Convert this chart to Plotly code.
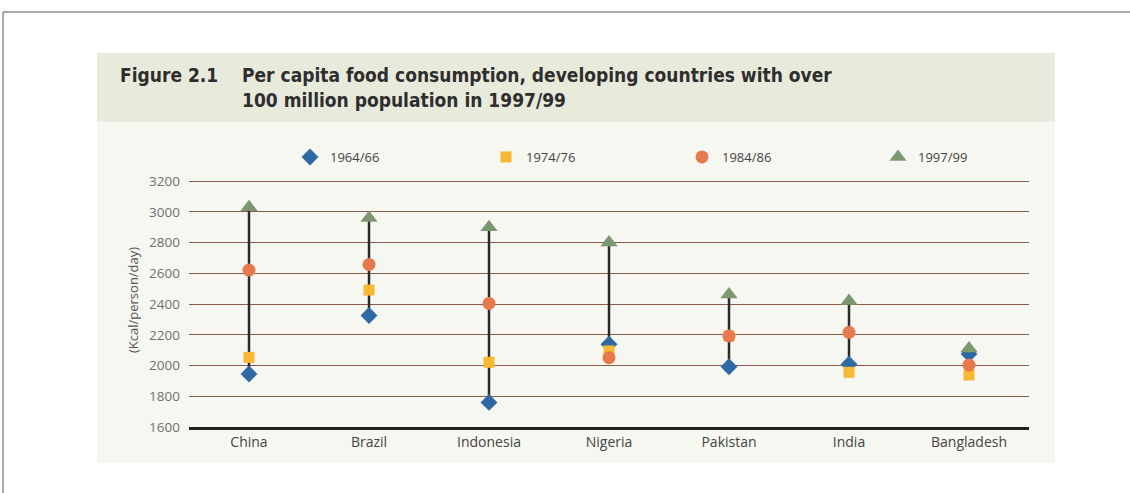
import plotly.graph_objects as go

countries = ["China", "Brazil", "Indonesia", "Nigeria", "Pakistan", "India", "Bangladesh"]
v1964 = [1945, 2325, 1760, 2138, 1992, 2008, 2075]
v1974 = [2053, 2491, 2021, 2095, 2192, 1956, 1938]
v1984 = [2621, 2658, 2404, 2051, 2192, 2216, 2003]
v1997 = [3030, 2960, 2900, 2800, 2462, 2420, 2110]
series_names = ["1964/66", "1974/76", "1984/86", "1997/99"]
y_ticks = [1600, 1800, 2000, 2200, 2400, 2600, 2800, 3000, 3200]

W, H = 1130, 493
L, R, T, B = 189, 1029, 178, 427
Y_MIN, Y_MAX = 1600, 3220


def px(x):
    return (x - L) / (R - L)


def py(y):
    return (B - y) / (B - T)


fig = go.Figure()

# vertical range lines per country (min to max of the series)
lx, ly = [], []
for i, c in enumerate(countries):
    vals = [v1964[i], v1974[i], v1984[i], v1997[i]]
    lx += [c, c, None]
    ly += [min(vals), max(vals), None]
fig.add_trace(go.Scatter(x=lx, y=ly, mode="lines", line=dict(color="#2b2b2b", width=2.5),
                         showlegend=False, hoverinfo="skip"))

styles = [
    ("diamond", "#2f69a3", 13),
    ("square", "#f8b735", 11),
    ("circle", "#e77a4c", 13),
    ("triangle-up", "#7b9870", 15),
]
for name, vals, (sym, col, sz) in zip(series_names, [v1964, v1974, v1984, v1997], styles):
    fig.add_trace(go.Scatter(x=countries, y=vals, mode="markers", name=name,
                             marker=dict(symbol=sym, color=col, size=sz, line=dict(width=0))))

shapes = [
    # outer frame
    dict(type="line", xref="paper", yref="paper", x0=px(3), x1=px(1130), y0=py(12), y1=py(12),
         line=dict(color="#555555", width=1), layer="below"),
    dict(type="line", xref="paper", yref="paper", x0=px(3), x1=px(3), y0=py(12), y1=py(493),
         line=dict(color="#555555", width=1), layer="below"),
    # header panel
    dict(type="rect", xref="paper", yref="paper", x0=px(97), x1=px(1055), y0=py(53), y1=py(122),
         fillcolor="#e8eadb", line=dict(width=0), layer="below"),
    # body panel
    dict(type="rect", xref="paper", yref="paper", x0=px(97), x1=px(1055), y0=py(122), y1=py(463),
         fillcolor="#f7f7f1", line=dict(width=0), layer="below"),
]

title_font = dict(family="DejaVu Sans Condensed, DejaVu Sans, sans-serif", size=19, color="#2e2e2e")
annotations = [
    dict(text="<b>Figure 2.1</b>", xref="paper", yref="paper", x=px(118), y=py(75),
         xanchor="left", yanchor="middle", showarrow=False, font=title_font),
    dict(text="<b>Per capita food consumption, developing countries with over<br>100 million population in 1997/99</b>",
         xref="paper", yref="paper", x=px(240), y=py(88), xanchor="left", yanchor="middle",
         align="left", showarrow=False, font=title_font),
    dict(text="(Kcal/person/day)", xref="paper", yref="paper", x=px(133), y=py(300),
         xanchor="center", yanchor="middle", textangle=-90, showarrow=False,
         font=dict(family="Open Sans, sans-serif", size=13, color="#555555")),
]

fig.update_layout(
    width=W, height=H,
    margin=dict(l=L, r=W - R, t=T, b=H - B, pad=0),
    paper_bgcolor="white", plot_bgcolor="rgba(0,0,0,0)",
    shapes=shapes, annotations=annotations,
    font=dict(family="Open Sans, sans-serif", color="#444444"),
    legend=dict(orientation="h", x=px(290), xanchor="left", y=py(157), yanchor="middle",
                entrywidth=151, entrywidthmode="pixels", itemwidth=30,
                bgcolor="rgba(0,0,0,0)", font=dict(size=13, color="#444444")),
    xaxis=dict(type="category", range=[-0.5, 6.5], showgrid=False, showline=True,
               linecolor="#222222", linewidth=3, ticks="", zeroline=False,
               tickfont=dict(size=14, color="#444444")),
    yaxis=dict(range=[Y_MIN, Y_MAX], tickvals=y_ticks, showgrid=True, gridcolor="#8a5a4c",
               gridwidth=1, zeroline=False, showline=False, ticks="",
               tickfont=dict(size=13.5, color="#707070"), ticklabelstandoff=8),
)

fig.write_html("out.html")
